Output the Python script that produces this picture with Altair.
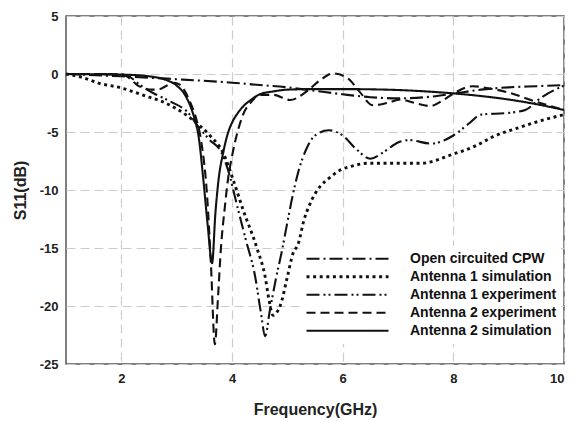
import altair as alt
import pandas as pd

series_names = [
    "Open circuited CPW",
    "Antenna 1 simulation",
    "Antenna 1 experiment",
    "Antenna 2 experiment",
    "Antenna 2 simulation",
]

# Open circuited CPW
f_cpw = [1, 2, 3, 4, 4.5, 5, 5.5, 6, 6.5, 7, 7.5, 8, 8.5, 9, 9.5, 10]
s_cpw = [0, -0.2, -0.45, -0.75, -0.95, -1.15, -1.45, -1.75, -2.0, -2.1, -2.0, -1.7, -1.35, -1.15, -1.05, -0.95]

# Antenna 1 simulation
f_a1s = [1, 1.3, 1.6, 2.0, 2.2, 2.5, 2.7, 3.0, 3.3, 3.6, 3.84, 4.02, 4.2, 4.45, 4.6, 4.67, 4.74, 4.8, 4.87,
         5.0, 5.1, 5.2, 5.3, 5.4, 5.59, 5.75, 5.95, 6.2, 6.44, 7.0, 7.4, 8.0, 8.4, 8.72, 9.2, 9.6, 10]
s_a1s = [0, -0.3, -0.8, -1.2, -1.5, -2.0, -2.3, -3.0, -4.0, -5.3, -6.8, -9.1, -11.7, -15.0, -17.5, -19.5, -20.8, -20.6, -20.0,
         -17.5, -15.5, -14.6, -12.6, -11.3, -9.7, -9.0, -8.3, -7.9, -7.7, -7.7, -7.7, -6.9, -6.2, -5.4, -4.6, -4.0, -3.5]

# Antenna 1 experiment
f_a1e = [1, 1.5, 2, 2.15, 2.3, 2.45, 2.6, 2.9, 3.2, 3.4, 3.6, 3.8, 3.93, 4.1, 4.25, 4.42, 4.52, 4.6, 4.68,
         4.8, 4.9, 5.0, 5.1, 5.2, 5.35, 5.5, 5.75, 6.0, 6.25, 6.5, 6.75, 7.0, 7.2, 7.6, 8.0, 8.3, 8.5, 9.0, 9.3, 9.6, 10]
s_a1e = [0, 0, -0.05, -0.25, -0.8, -1.3, -1.7, -2.4, -3.3, -4.6, -5.7, -6.7, -8.3, -11.5, -14.3, -17.5, -20.5, -22.6, -20.5,
         -17.5, -15.3, -12.8, -10.4, -8.4, -6.4, -5.3, -4.85, -5.3, -6.5, -7.3, -6.7, -5.9, -5.7, -6.0, -5.3, -4.2, -3.5, -3.35, -3.1, -2.0, -1.0]

# Antenna 2 experiment
f_a2e = [1, 1.5, 2, 2.1, 2.2, 2.3, 2.4, 2.55, 2.7, 2.8, 2.95, 3.05, 3.15, 3.25, 3.35, 3.45, 3.55, 3.62, 3.69,
         3.75, 3.8, 3.87, 3.93, 4.0, 4.1, 4.2, 4.35, 4.5, 4.75, 5.05, 5.35, 5.6, 5.83, 6.1, 6.3, 6.55, 6.8,
         7.05, 7.3, 7.58, 7.8, 8.0, 8.35, 8.6, 9.0, 9.4, 10]
s_a2e = [0, 0, -0.05, -0.2, -0.6, -1.0, -1.2, -1.35, -1.3, -1.05, -0.75, -0.9, -1.5, -2.5, -3.8, -6.0, -10.5, -16.5, -23.3,
         -19.0, -15.0, -11.5, -9.0, -7.1, -5.0, -3.5, -2.4, -1.8, -1.8, -2.24, -1.5, -0.5, 0.05, -0.4, -1.5, -2.7, -2.5,
         -2.2, -2.5, -2.76, -2.3, -1.7, -1.05, -1.2, -1.6, -2.24, -3.1]

# Antenna 2 simulation
f_a2s = [1, 1.5, 2, 2.5, 2.8, 3.0, 3.15, 3.25, 3.32, 3.4, 3.48, 3.56, 3.64, 3.7, 3.76, 3.84, 3.92, 4.0, 4.1, 4.2,
         4.35, 4.5, 4.75, 5, 5.5, 6, 6.5, 7, 7.5, 8, 8.5, 9, 9.5, 10]
s_a2s = [0, -0.02, -0.05, -0.2, -0.5, -1.0, -1.8, -2.8, -3.8, -5.5, -9.0, -13.0, -16.3, -12.0, -9.0, -6.8, -5.2, -4.2, -3.4, -2.8,
         -2.2, -1.75, -1.5, -1.35, -1.3, -1.3, -1.32, -1.38, -1.5, -1.67, -1.9, -2.2, -2.6, -3.1]

dash_styles = [[13, 4, 2, 4], [3, 3.6], [13, 4, 2, 3, 2, 4], [9, 5], [1, 0]]
line_widths = [2.1, 2.9, 2.1, 2.1, 2.1]

x_ticks = [2, 4, 6, 8, 10]
y_ticks = [-25, -20, -15, -10, -5, 0, 5]

frames = []
for name, fx, sy in zip(series_names,
                        [f_cpw, f_a1s, f_a1e, f_a2e, f_a2s],
                        [s_cpw, s_a1s, s_a1e, s_a2e, s_a2s]):
    frames.append(pd.DataFrame({"freq": fx, "s11": sy, "series": name}))
df = pd.concat(frames, ignore_index=True)

FONT = "Liberation Sans"

legend = alt.Legend(
    orient="none", legendX=235, legendY=230, title=None,
    symbolType="stroke", symbolSize=6724,
    symbolStrokeColor="#111111", clipHeight=17.5, rowPadding=0,
    labelFont=FONT, labelFontWeight="bold", labelFontSize=14,
    labelColor="#111111", labelOffset=20, fillColor="white",
    padding=4, labelLimit=300,
)

chart = alt.Chart(df).mark_line(
    color="#111111", interpolate="monotone"
).encode(
    x=alt.X("freq:Q", scale=alt.Scale(domain=[1, 10], nice=False, zero=False),
            axis=alt.Axis(values=x_ticks, title="Frequency(GHz)", titlePadding=16,
                          labelExpr="'' + datum.value")),
    y=alt.Y("s11:Q", scale=alt.Scale(domain=[-25, 5], nice=False, zero=False),
            axis=alt.Axis(values=y_ticks, title="S11(dB)", titlePadding=11,
                          labelExpr="'' + datum.value")),
    strokeDash=alt.StrokeDash(
        "series:N",
        scale=alt.Scale(type="ordinal", domain=series_names, range=dash_styles),
        legend=legend,
    ),
    strokeWidth=alt.StrokeWidth(
        "series:N",
        scale=alt.Scale(type="ordinal", domain=series_names, range=line_widths),
        legend=legend,
    ),
    order=alt.Order("freq:Q"),
).properties(
    width=498, height=348,
    padding={"left": 66, "top": 16, "right": 9, "bottom": 57},
    autosize=alt.AutoSizeParams(type="none"),
).configure_view(
    stroke="#555555", strokeWidth=1.5
).configure_axis(
    domain=False, ticks=False, grid=True, gridColor="#cccccc", gridDash=[9, 5],
    gridWidth=1.2, labelFont=FONT, labelFontWeight="bold", labelFontSize=13,
    labelColor="#222222", labelPadding=8, titleFont=FONT, titleFontWeight="bold",
    titleFontSize=16, titleColor="#222222",
)

chart.save("out.html", embed_options={"renderer": "svg", "actions": False})
